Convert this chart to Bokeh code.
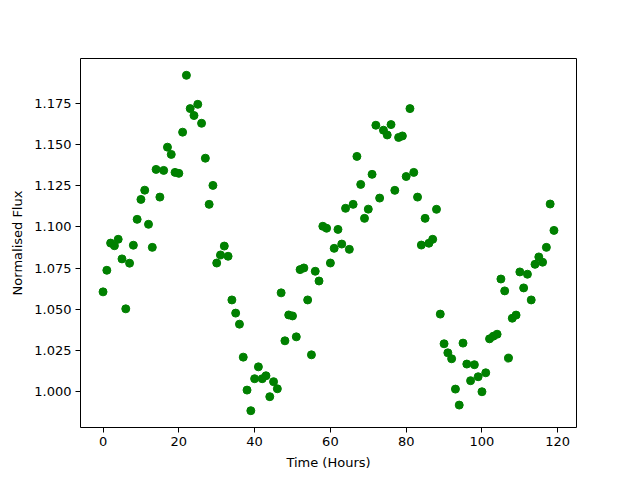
from bokeh.plotting import figure
from bokeh.models import Range1d, FixedTicker, CustomJSTickFormatter
from bokeh.embed import file_html
from bokeh.resources import INLINE

hours = list(range(120))
flux = [
    1.0606, 1.0737, 1.0902, 1.0886, 1.0925, 1.0806, 1.0503, 1.0780, 1.0889, 1.1046,
    1.1167, 1.1223, 1.1016, 1.0876, 1.1349, 1.1181, 1.1343, 1.1484, 1.1440, 1.1331,
    1.1325, 1.1575, 1.1920, 1.1718, 1.1676, 1.1744, 1.1629, 1.1417, 1.1137, 1.1252,
    1.0781, 1.0830, 1.0884, 1.0822, 1.0557, 1.0477, 1.0410, 1.0210, 1.0010, 0.9885,
    1.0079, 1.0151, 1.0079, 1.0097, 0.9970, 1.0061, 1.0018, 1.0600, 1.0309, 1.0466,
    1.0460, 1.0333, 1.0741, 1.0751, 1.0557, 1.0224, 1.0731, 1.0672, 1.1004, 1.0992,
    1.0781, 1.0870, 1.0985, 1.0896, 1.1113, 1.0864, 1.1137, 1.1428, 1.1258, 1.1052,
    1.1108, 1.1319, 1.1617, 1.1175, 1.1587, 1.1558, 1.1621, 1.1222, 1.1543, 1.1552,
    1.1306, 1.1718, 1.1331, 1.1181, 1.0890, 1.1052, 1.0901, 1.0925, 1.1107, 1.0471,
    1.0291, 1.0236, 1.0200, 1.0016, 0.9919, 1.0295, 1.0168, 1.0067, 1.0164, 1.0091,
    1.0000, 1.0115, 1.0321, 1.0337, 1.0349, 1.0684, 1.0612, 1.0204, 1.0446, 1.0465,
    1.0727, 1.0630, 1.0713, 1.0557, 1.0773, 1.0818, 1.0786, 1.0876, 1.1139, 1.0979,
]
x_ticks = [0, 20, 40, 60, 80, 100, 120]
y_ticks = [1.000, 1.025, 1.050, 1.075, 1.100, 1.125, 1.150, 1.175]

p = figure(width=640, height=480, output_backend="svg", toolbar_location=None,
           x_range=Range1d(-5.95, 124.95), y_range=Range1d(0.9783, 1.2022),
           min_border_left=80, min_border_right=64, min_border_top=58, min_border_bottom=53)
p.scatter(hours, flux, size=8, color="#008000", line_color="#008000")

p.xgrid.visible = False
p.ygrid.visible = False
p.outline_line_color = "black"
p.outline_line_width = 1
p.background_fill_color = "white"
p.border_fill_color = "white"

p.xaxis.ticker = FixedTicker(ticks=x_ticks)
p.yaxis.ticker = FixedTicker(ticks=y_ticks)
p.yaxis.formatter = CustomJSTickFormatter(code="return tick.toFixed(3);")
p.xaxis.axis_label = "Time (Hours)"
p.yaxis.axis_label = "Normalised Flux"
for ax in (p.xaxis, p.yaxis):
    ax.axis_line_color = None
    ax.major_tick_in = 0
    ax.major_tick_out = 5
    ax.minor_tick_line_color = None
    ax.major_tick_line_color = "black"
    ax.major_label_text_font = "DejaVu Sans"
    ax.major_label_text_font_size = "13px"
    ax.major_label_text_color = "black"
    ax.axis_label_text_font = "DejaVu Sans"
    ax.axis_label_text_font_size = "13px"
    ax.axis_label_text_font_style = "normal"
    ax.axis_label_text_color = "black"
    ax.major_label_standoff = 4
    ax.axis_label_standoff = 6

open("out.html", "w").write(file_html(p, INLINE))
